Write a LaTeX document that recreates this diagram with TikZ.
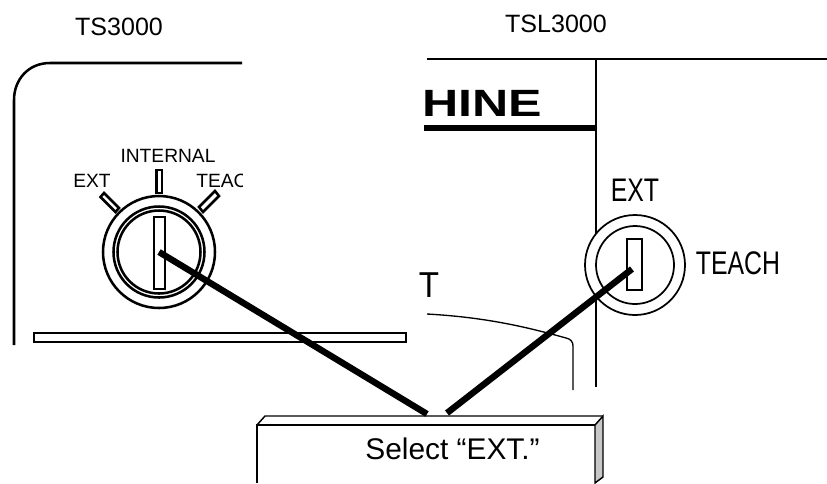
\documentclass[tikz,border=0pt]{standalone}
\usepackage{fontspec}
\setmainfont{Liberation Sans}
\usetikzlibrary{positioning, calc}

\tikzset{
    panel/.style={line width=1.9pt, black},
    thinpanel/.style={line width=1.3pt, black},
    leader/.style={line width=4.8pt, black},
    smalllabel/.style={font=\fontsize{14.4}{16}\selectfont, inner sep=0pt},
    modellabel/.style={font=\fontsize{18.8}{22}\selectfont, inner sep=0pt},
    narrowlabel/.style={font=\fontsize{24.5}{26}\selectfont, inner sep=0pt, xscale=0.76},
}

\begin{document}
\begin{tikzpicture}[x=0.75pt, y=-0.75pt]
    \useasboundingbox (0,0) rectangle (827,483);

    \node[modellabel] (tsmodel) at (119,27) {TS3000};
    \node[modellabel] (tslmodel) at (556,24) {TSL3000};

    % left panel
    \draw[panel] (242,63) -- (50,63) .. controls (28,63) and (14,80) .. (14,100) -- (14,345);
    \draw[panel] (34,333) rectangle (406,342);
    \coordinate (leftkey) at (159,252);
    \draw[panel] (leftkey) circle (56);
    \draw[panel] (leftkey) circle (45.5);
    \draw[panel] (leftkey) circle (41.5);
    \draw[panel] (154,217) rectangle (165,289);
    \draw[panel] (156.5,170) rectangle (162,193);
    \draw[panel] (100.5,197) -- (104,193) -- (119,208) -- (115.5,212) -- cycle;
    \draw[panel] (215,191) -- (219,196) -- (203,212) -- (199,207) -- cycle;
    \node[smalllabel] (internal) at (168,156) {INTERNAL};
    \node[smalllabel] (extleft) at (92,181) {EXT};
    \begin{scope}
        \clip (190,165) rectangle (242,195);
        \node[smalllabel, anchor=west] (teachleft) at (196,181) {TEACH};
    \end{scope}

    % right panel
    \draw[thinpanel] (427,59) -- (827,59);
    \draw[thinpanel] (596,59) -- (596,387);
    \node[font=\bfseries\fontsize{28.5}{30}\selectfont, inner sep=0pt, xscale=1.32] (hine) at (482,103.5) {HINE};
    \draw[line width=4.8pt] (424,128) -- (596,128);
    \coordinate (rightring) at (635,265);
    \coordinate (rightkey) at (632,269);
    \draw[thinpanel, fill=white] (rightring) circle (50);
    \draw[thinpanel] (rightring) circle (39);
    \draw[thinpanel] (627,239) rectangle (642,290);
    \node[narrowlabel] (extright) at (635,190) {EXT};
    \node[narrowlabel] (teachright) at (738,263) {TEACH};
    \node[font=\fontsize{27}{28}\selectfont, inner sep=0pt, xscale=0.92] (tlabel) at (429,285) {T};
    \draw[line width=1pt] (427,314) .. controls (480,317) and (520,325) .. (566,338)
        .. controls (571,339) and (573,342) .. (573,346) -- (573,390);

    % callout box
    \draw[line width=1.1pt, fill=black!22] (595,425) -- (603,416) -- (603,477) -- (595,483) -- cycle;
    \draw[line width=1.1pt] (257,483) -- (257,425) -- (595,425);
    \draw[line width=1.1pt] (257,425) -- (265,416) -- (603,416);
    \node[font=\fontsize{22.4}{24}\selectfont, inner sep=0pt] (selecttext) at (452.5,449) {Select “EXT.”};
    \coordinate (leftend) at (427,414);
    \coordinate (rightend) at (447,413);

    \draw[leader] (leftkey) -- (leftend);
    \draw[leader] (rightkey) -- (rightend);
\end{tikzpicture}
\end{document}
